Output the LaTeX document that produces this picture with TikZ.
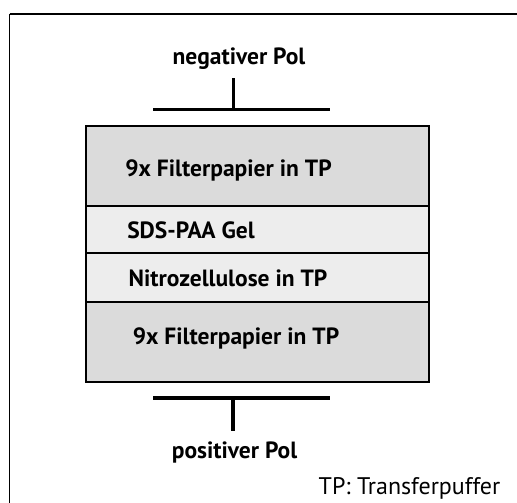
\documentclass[tikz,border=0pt]{standalone}
\usepackage{fontspec}
\setmainfont{PT Sans}
\usepackage{tikz}

\tikzset{
	layer/.style={shape=rectangle,draw=black,line width=1.2pt,minimum width=343pt,inner sep=0pt},
	paper/.style={layer,fill=black!14},
	gel/.style={layer,fill=black!7},
	label/.style={font=\fontsize{23.5}{26}\selectfont\bfseries},
	pole/.style={line width=3pt}
}

\begin{document}
\begin{tikzpicture}[x=1pt,y=-1pt]
	\useasboundingbox (0,0) rectangle (517,503);
	\draw[line width=1.4pt] (9.5,14) -- (525,14);
	\draw[line width=1.4pt] (9.5,14) -- (9.5,510);

	\node[paper,minimum height=80pt] (f1) at (257.5,166)   {};
	\node[gel,minimum height=47pt]   (g)  at (257.5,229.5) {};
	\node[gel,minimum height=49pt]   (n)  at (257.5,277.5) {};
	\node[paper,minimum height=80pt] (f2) at (257.5,342)   {};

	\node[label] (t1) at (228.5,170) {9x Filterpapier in TP};
	\node[label] (tg) at (191,230)   {SDS-PAA Gel};
	\node[label] (tn) at (228,278)   {Nitrozellulose in TP};
	\node[label] (t2) at (236,338)   {9x Filterpapier in TP};

	\node[label] (neg) at (239,59)  {negativer Pol};
	\node[label] (pos) at (234.5,452) {positiver Pol};
	\node[font=\fontsize{24}{26}\selectfont] (tp) at (409.5,488) {TP: Transferpuffer};

	\coordinate (nl) at (153,109);
	\coordinate (nr) at (330,109);
	\coordinate (nm) at (233,109);
	\coordinate (nt) at (233,78);
	\coordinate (pl) at (153,398);
	\coordinate (pr) at (330,398);
	\coordinate (pm) at (233,398);
	\coordinate (pb) at (233,431);

	\path[pole] (nl) edge (nr);
	\path[pole] (nm) edge (nt);
	\path[pole,line width=3.8pt] (pl) edge (pr);
	\path[pole,line width=3.8pt] (pm) edge (pb);

\end{tikzpicture}
\end{document}
